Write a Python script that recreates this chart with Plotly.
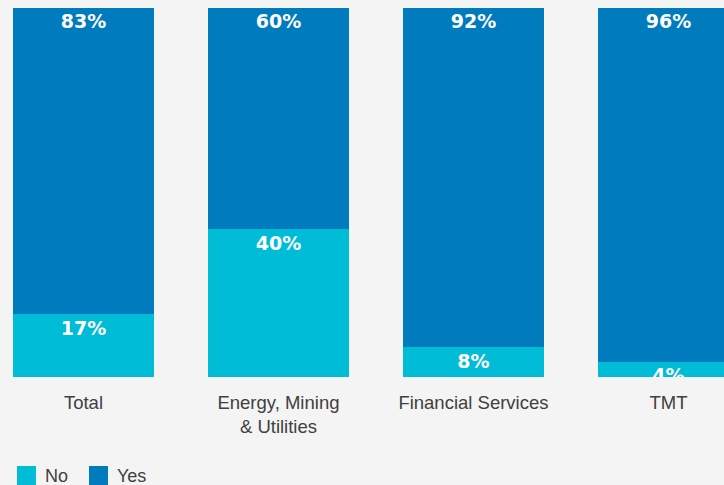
import plotly.graph_objects as go

categories = ["Total", "Energy, Mining<br>& Utilities", "Financial Services", "TMT"]
no_vals = [17, 40, 8, 4]
yes_vals = [83, 60, 92, 96]
series_names = ["No", "Yes"]
colors = {"No": "#00BCD6", "Yes": "#007BBD"}

BG = "#F4F4F4"
W, H = 724, 485
PLOT_TOP, PLOT_BOTTOM = 8, 377
PH = PLOT_BOTTOM - PLOT_TOP

fig = go.Figure()
fig.add_trace(go.Bar(x=categories, y=no_vals, name="No", marker_color=colors["No"],
                     marker_line_width=0, showlegend=False, hoverinfo="skip"))
fig.add_trace(go.Bar(x=categories, y=yes_vals, name="Yes", marker_color=colors["Yes"],
                     marker_line_width=0, showlegend=False, hoverinfo="skip"))

lab_font = dict(family="DejaVu Sans", size=19, color="white", weight="bold")
invisible = dict(size=8, opacity=0)
fig.add_trace(go.Scatter(x=categories, y=no_vals, mode="markers+text", marker=invisible,
                         text=[f"{v}%" for v in no_vals], textposition="bottom center",
                         textfont=lab_font, cliponaxis=True, showlegend=False, hoverinfo="skip"))
fig.add_trace(go.Scatter(x=categories, y=[n + y for n, y in zip(no_vals, yes_vals)],
                         mode="markers+text", marker=invisible,
                         text=[f"{v}%" for v in yes_vals], textposition="bottom center",
                         textfont=lab_font, cliponaxis=True, showlegend=False, hoverinfo="skip"))

# legend (drawn as squares + text)
def py(pix):
    return (PLOT_BOTTOM - pix) / PH

shapes = []
annotations = []
for name, x0 in zip(series_names, [17, 89]):
    shapes.append(dict(type="rect", xref="paper", yref="paper",
                       x0=x0 / W, x1=(x0 + 19) / W, y0=py(466), y1=py(485),
                       fillcolor=colors[name], line_width=0))
    annotations.append(dict(xref="paper", yref="paper", x=(x0 + 26) / W, y=py(476),
                            xanchor="left", yanchor="middle", text=name, showarrow=False,
                            font=dict(family="Liberation Sans", size=18, color="#404040")))

fig.update_layout(
    width=W, height=H,
    margin=dict(l=0, r=0, t=PLOT_TOP, b=H - PLOT_BOTTOM),
    paper_bgcolor=BG, plot_bgcolor=BG,
    barmode="stack", bargap=0.277,
    shapes=shapes, annotations=annotations,
    showlegend=False,
)
fig.update_xaxes(range=[-0.428, 3.285], showgrid=False, zeroline=False, showline=False,
                 ticks="outside", ticklen=9, tickcolor="rgba(0,0,0,0)",
                 tickfont=dict(family="Liberation Sans", size=18.5, color="#404040"))
fig.update_yaxes(range=[0, 100], visible=False, showgrid=False, zeroline=False)

fig.write_html("out.html")
